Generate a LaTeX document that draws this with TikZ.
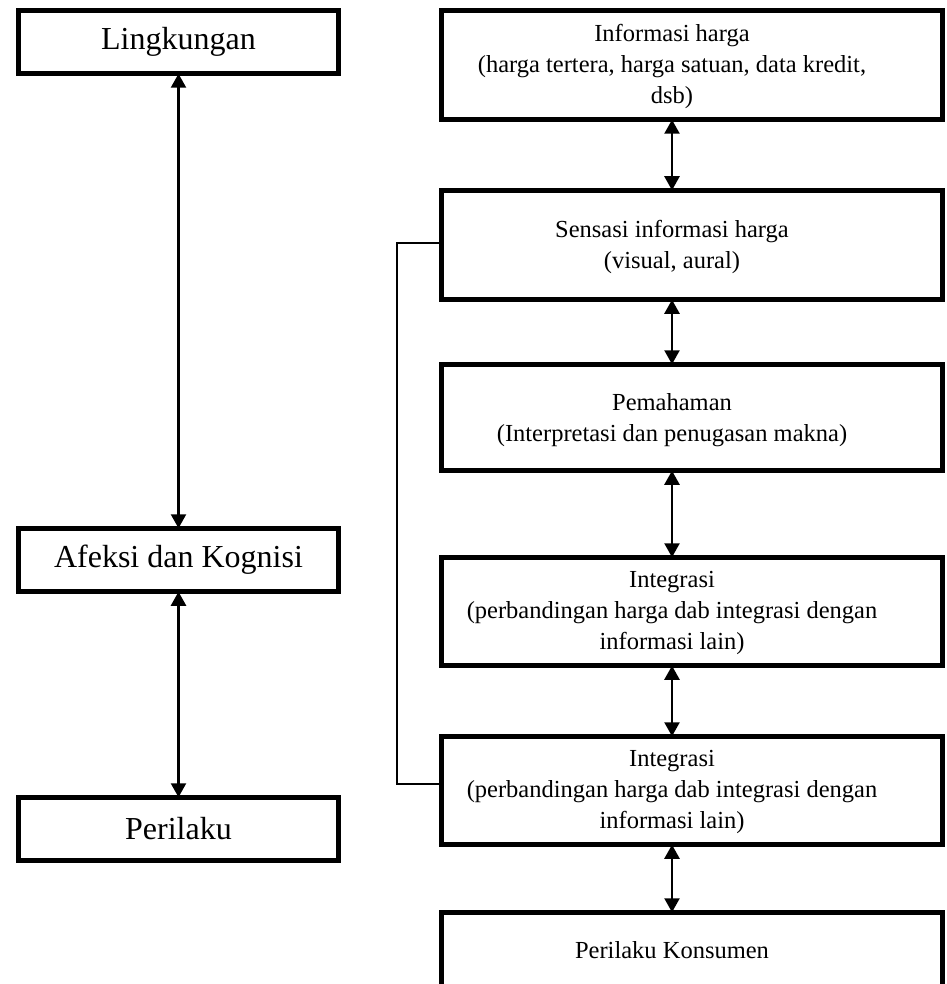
\documentclass[tikz,border=0pt]{standalone}
\usepackage{fontspec}
\setmainfont{Liberation Serif}
\usetikzlibrary{arrows.meta}
\begin{document}
\begin{tikzpicture}[x=1pt,y=-1pt,
  box/.style={draw=black,line width=4.6pt,rectangle,inner sep=0pt,outer sep=0pt},
  lbox/.style={box,minimum width=320.5pt,minimum height=63.5pt,font=\fontsize{32}{38}\selectfont},
  rbox/.style={box,minimum width=501pt},
  rtxt/.style={align=center,inner sep=0pt,font=\fontsize{24.5}{31}\selectfont},
  arr/.style={line width=2.4pt,{Triangle[width=15pt,length=14pt]}-{Triangle[width=15pt,length=14pt]}},
  fb/.style={line width=1.3pt}]
\useasboundingbox (0,0) rectangle (946,984);
\clip (0,0) rectangle (946,984);
\fill[white] (0,0) rectangle (946,984);
% left column
\node[lbox] (L1) at (178.5,42) {Lingkungan};
\node[lbox] (L2) at (178.5,560) {Afeksi dan Kognisi};
\node[lbox] (L3) at (178.5,829) {Perilaku};
\draw[arr] (L1.south) -- (L2.north);
\draw[arr] (L2.south) -- (L3.north);
% right column
\node[rbox,minimum height=109.5pt] (b1) at (692.25,65) {};
\node[rbox,minimum height=109.5pt] (b2) at (692.25,245) {};
\node[rbox,minimum height=106.5pt] (b3) at (692.25,417.5) {};
\node[rbox,minimum height=108.5pt] (b4) at (692.25,611.5) {};
\node[rbox,minimum height=108.5pt] (b5) at (692.25,790.5) {};
\node[rbox,minimum height=109.5pt] (b6) at (692.25,967) {};
\node[rtxt] (t1) at (672,66) {Informasi harga\\(harga tertera, harga satuan, data kredit,\\dsb)};
\node[rtxt] (t2) at (672,247) {Sensasi informasi harga\\(visual, aural)};
\node[rtxt] (t3) at (672,420) {Pemahaman\\(Interpretasi dan penugasan makna)};
\node[rtxt] (t4) at (672,613) {Integrasi\\(perbandingan harga dab integrasi dengan\\informasi lain)};
\node[rtxt] (t5) at (672,792) {Integrasi\\(perbandingan harga dab integrasi dengan\\informasi lain)};
\node[rtxt] (t6) at (672,950) {Perilaku Konsumen};
\draw[arr] (t1 |- b1.south) -- (t1 |- b2.north);
\draw[arr] (t1 |- b2.south) -- (t1 |- b3.north);
\draw[arr] (t1 |- b3.south) -- (t1 |- b4.north);
\draw[arr] (t1 |- b4.south) -- (t1 |- b5.north);
\draw[arr] (t1 |- b5.south) -- (t1 |- b6.north);
% feedback line
\coordinate (f1) at (397,243);
\coordinate (f2) at (397,784);
\draw[fb] (b2.west |- f1) -- (f1) -- (f2) -- (b5.west |- f2);
\end{tikzpicture}
\end{document}
